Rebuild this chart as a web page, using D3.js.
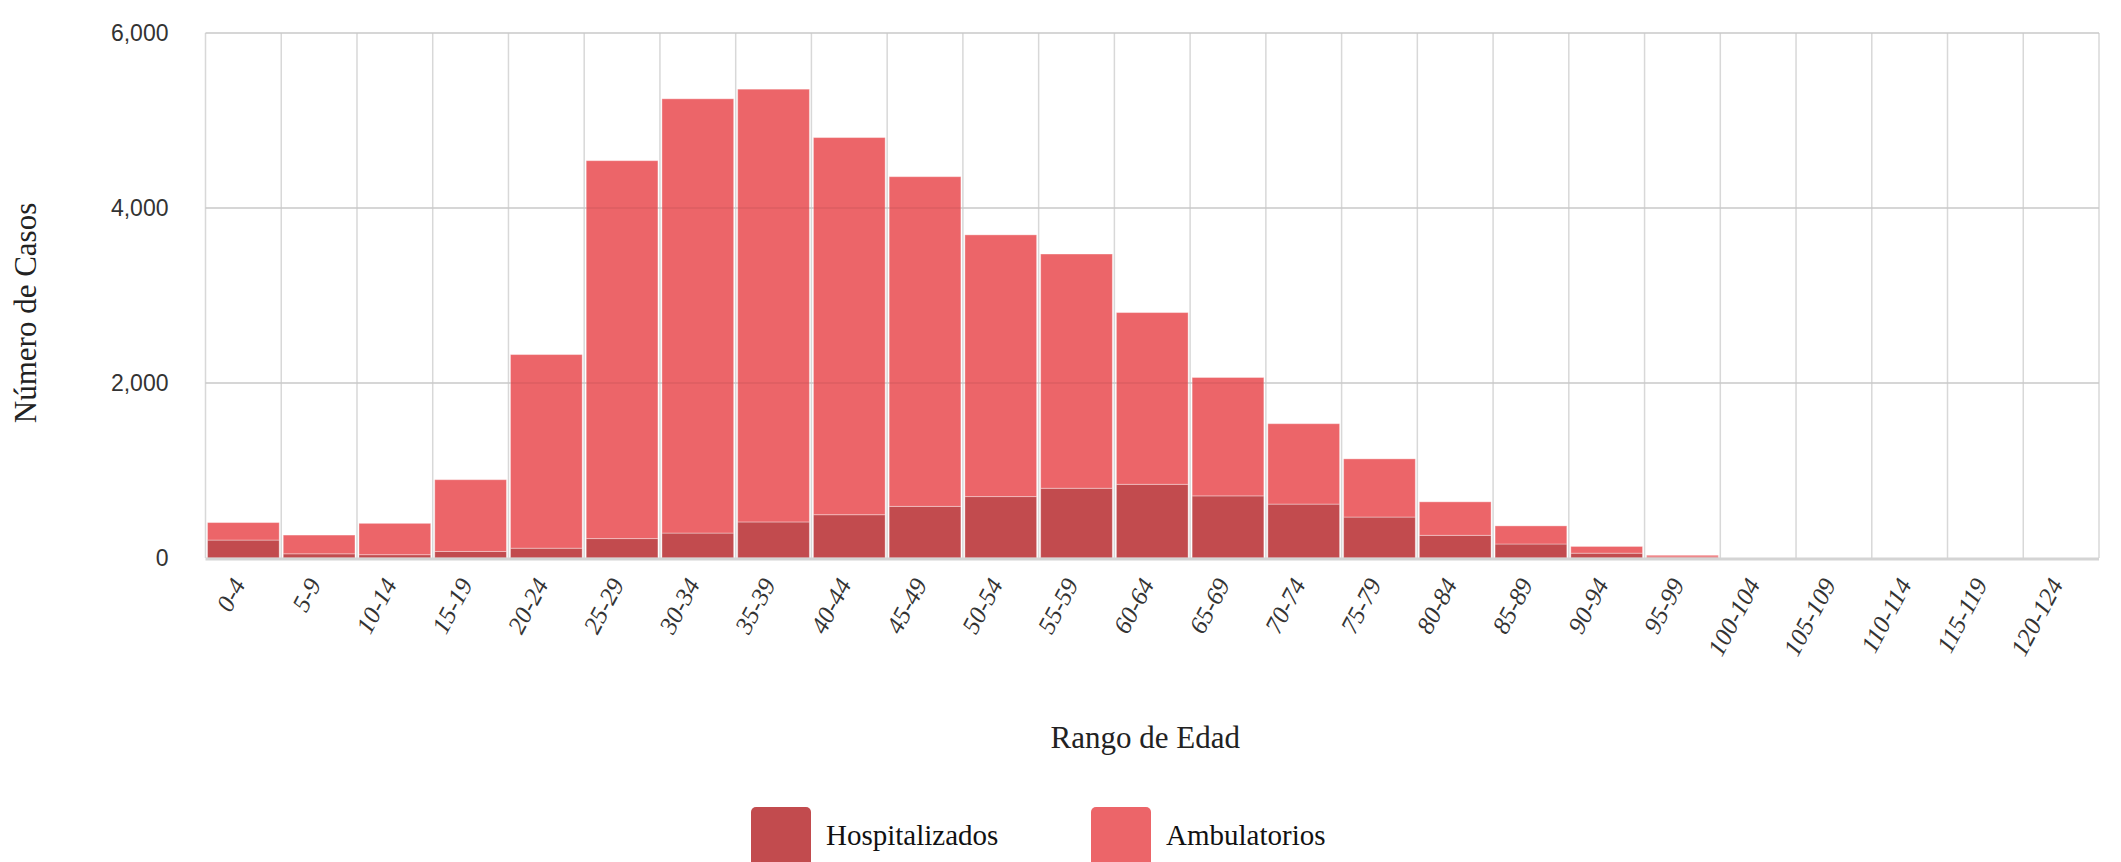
<!DOCTYPE html>
<html>
<head>
<meta charset="utf-8">
<script src="https://cdn.jsdelivr.net/npm/d3@7"></script>
<style>
  body { margin: 0; background: #fff; }
  svg { display: block; }
</style>
</head>
<body>
<svg id="edad_chart" width="2121" height="862"></svg>
<script>
// rangos de edad
const age_groups = ["0-4", "5-9", "10-14", "15-19", "20-24", "25-29", "30-34", "35-39",
  "40-44", "45-49", "50-54", "55-59", "60-64", "65-69", "70-74", "75-79", "80-84",
  "85-89", "90-94", "95-99", "100-104", "105-109", "110-114", "115-119", "120-124"];
const hospitalizados = [205, 48, 38, 75, 112, 222, 285, 412, 495, 590, 702, 797, 842,
  710, 616, 468, 259, 160, 55, 12, 0, 0, 0, 0, 0];
const ambulatorios = [200, 214, 358, 820, 2213, 4319, 4963, 4946, 4310, 3768, 2991,
  2677, 1963, 1353, 919, 665, 383, 207, 77, 19, 0, 0, 0, 0, 0];
const y_ticks = [0, 2000, 4000, 6000];
const series_names = ["Hospitalizados", "Ambulatorios"];
const series_colors = ["#c24b4e", "#ec6569"];

const svg = d3.select("svg#edad_chart");
const plot_left = 205.5, plot_right = 2099, plot_top = 33, plot_bottom = 558;

const x = d3.scaleBand(age_groups, [plot_left, plot_right]).padding(0);
const y = d3.scaleLinear([0, 6000], [plot_bottom, plot_top]);

const rows = age_groups.map((g, i) => ({
  group: g, Hospitalizados: hospitalizados[i], Ambulatorios: ambulatorios[i]
}));
const stacked = d3.stack().keys(series_names)(rows);

// horizontal grid
svg.append("g")
  .selectAll("line.hgrid")
  .data(y_ticks.filter(d => d > 0))
  .join("line")
  .attr("class", "hgrid")
  .attr("x1", plot_left).attr("x2", plot_right)
  .attr("y1", d => y(d)).attr("y2", d => y(d))
  .attr("stroke", "#e2e2e2")
  .attr("stroke-width", 2);

// vertical grid
const bounds = age_groups.map(g => x(g)).concat([plot_right]);
svg.append("g")
  .selectAll("line.vgrid")
  .data(bounds)
  .join("line")
  .attr("class", "vgrid")
  .attr("x1", d => d).attr("x2", d => d)
  .attr("y1", plot_top).attr("y2", plot_bottom)
  .attr("stroke", "#d8d8d8")
  .attr("stroke-width", 1.5);

// bars
svg.append("g")
  .selectAll("g.serie")
  .data(stacked)
  .join("g")
  .attr("class", "serie")
  .attr("fill", (d, i) => series_colors[i])
  .selectAll("rect")
  .data(d => d)
  .join("rect")
  .attr("x", d => x(d.data.group) + 2)
  .attr("width", x.bandwidth() - 4)
  .attr("y", d => y(d[1]))
  .attr("height", d => Math.max(0, y(d[0]) - y(d[1])))
  .attr("stroke", "rgba(255,255,255,0.35)")
  .attr("stroke-width", 1);

// grid over bars (faint)
svg.append("g")
  .selectAll("line.hgrid2")
  .data(y_ticks.filter(d => d > 0))
  .join("line")
  .attr("x1", plot_left).attr("x2", plot_right)
  .attr("y1", d => y(d)).attr("y2", d => y(d))
  .attr("stroke", "rgba(0,0,0,0.05)")
  .attr("stroke-width", 2);

// baseline
svg.append("line")
  .attr("x1", plot_left).attr("x2", plot_right)
  .attr("y1", plot_bottom + 1).attr("y2", plot_bottom + 1)
  .attr("stroke", "#d4d4d4")
  .attr("stroke-width", 3);

// y axis
const y_axis = svg.append("g")
  .attr("transform", `translate(${plot_left - 37}, 0)`)
  .call(d3.axisLeft(y).tickValues(y_ticks).tickFormat(d3.format(",")).tickSize(0).tickPadding(0));
y_axis.select(".domain").remove();
y_axis.selectAll("text")
  .attr("font-family", "Liberation Sans, Arial, sans-serif")
  .attr("font-size", 23)
  .attr("fill", "#333");

// x axis labels
svg.append("g")
  .selectAll("text.xlab")
  .data(age_groups)
  .join("text")
  .attr("class", "xlab")
  .attr("transform", d => `translate(${x(d) + x.bandwidth() / 2 - 5}, 580) rotate(-62)`)
  .attr("text-anchor", "end")
  .attr("dy", "0.35em")
  .attr("font-family", "Liberation Serif, Times New Roman, serif")
  .attr("font-style", "italic")
  .attr("font-size", 25)
  .attr("fill", "#333")
  .text(d => d);

// axis titles
svg.append("text")
  .attr("transform", `translate(36, 313) rotate(-90)`)
  .attr("text-anchor", "middle")
  .attr("font-family", "Liberation Serif, Times New Roman, serif")
  .attr("font-size", 31)
  .attr("fill", "#222")
  .text("Número de Casos");

svg.append("text")
  .attr("x", (plot_left + plot_right) / 2 - 7)
  .attr("y", 737)
  .attr("dy", "0.35em")
  .attr("text-anchor", "middle")
  .attr("font-family", "Liberation Serif, Times New Roman, serif")
  .attr("font-size", 31)
  .attr("fill", "#222")
  .text("Rango de Edad");

// legend
const legend_x = [751, 1091];
const legend = svg.append("g")
  .selectAll("g.legend")
  .data(series_names)
  .join("g")
  .attr("class", "legend")
  .attr("transform", (d, i) => `translate(${legend_x[i]}, 807)`);
legend.append("rect")
  .attr("width", 60).attr("height", 70)
  .attr("rx", 5)
  .attr("fill", (d, i) => series_colors[i]);
legend.append("text")
  .attr("x", 75)
  .attr("y", 28)
  .attr("dy", "0.35em")
  .attr("font-family", "Liberation Serif, Times New Roman, serif")
  .attr("font-size", 29)
  .attr("fill", "#111")
  .text(d => d);
</script>
</body>
</html>
